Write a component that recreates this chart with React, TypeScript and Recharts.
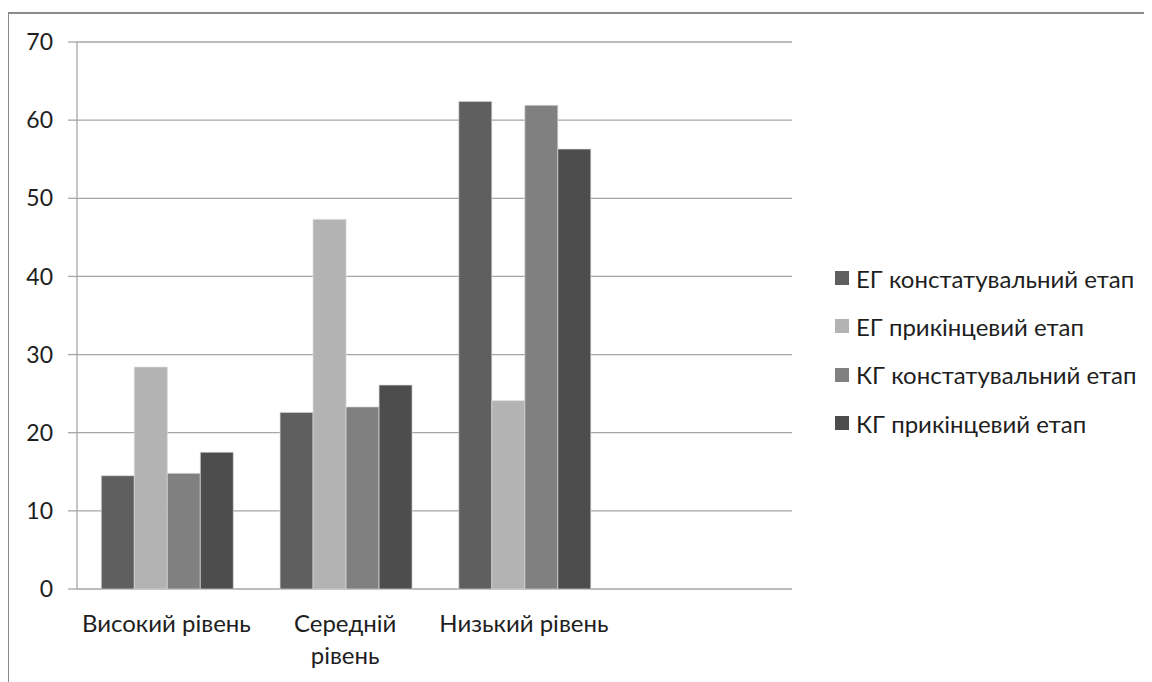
import React from "react";
import { BarChart, Bar, XAxis, YAxis, CartesianGrid, Legend } from "recharts";

// categories on the x axis (the fourth slot is empty in the source chart)
const categories = ["Високий рівень", "Середній рівень", "Низький рівень", ""];

// series values
const egInitial = [14.5, 22.6, 62.4, null];
const egFinal = [28.4, 47.3, 24.1, null];
const kgInitial = [14.8, 23.3, 61.9, null];
const kgFinal = [17.5, 26.1, 56.3, null];

const seriesNames = [
  "ЕГ констатувальний етап",
  "ЕГ прикінцевий етап",
  "КГ констатувальний етап",
  "КГ прикінцевий етап",
];

const yTicks = [0, 10, 20, 30, 40, 50, 60, 70];
// boundaries between categories, where Excel puts its tick marks
const edgeTicks = [0, 1, 2, 3, 4];

const COLORS = ["#5f5f5f", "#b3b3b3", "#808080", "#4d4d4d"];
const GRID = "#a6a6a6";
const FONT = "Lato, 'Open Sans', sans-serif";
const TEXT = "#1e1e1e";

const data = categories.map((name, i) => ({
  name,
  egInitial: egInitial[i],
  egFinal: egFinal[i],
  kgInitial: kgInitial[i],
  kgFinal: kgFinal[i],
}));

// category label, wrapped onto two lines when it is too long (as Excel did)
const CategoryTick = ({ x, y, payload }: any) => {
  const label: string = payload.value || "";
  const lines = label.length > 14 ? label.split(" ") : [label];
  return (
    <text
      x={x}
      y={y + 43}
      textAnchor="middle"
      fontFamily={FONT}
      fontSize={24}
      fill={TEXT}
    >
      {lines.map((line, i) => (
        <tspan key={i} x={x} dy={i === 0 ? 0 : 31.5}>
          {line}
        </tspan>
      ))}
    </text>
  );
};

const LegendContent = ({ payload }: any) => (
  <div style={{ fontFamily: FONT, fontSize: 24, color: TEXT }}>
    {(payload || []).map((entry: any, index: number) => (
      <div
        key={`legend-${index}`}
        style={{ display: "flex", alignItems: "center", height: 48.3, whiteSpace: "nowrap" }}
      >
        <span
          style={{
            display: "inline-block",
            width: 14,
            height: 14,
            background: entry.color,
            marginRight: 7,
          }}
        />
        <span>{entry.value}</span>
      </div>
    ))}
  </div>
);

export default function App() {
  return (
    <div
      style={{
        position: "relative",
        width: 1152,
        height: 682,
        marginTop: -8,
        marginLeft: -8,
        overflow: "hidden",
        background: "#fff",
      }}
    >
      {/* chart frame: only top and left edges fall inside the picture */}
      <div
        style={{
          position: "absolute",
          left: 7,
          top: 12,
          width: 1200,
          height: 720,
          border: "2px solid #8a8a8a",
        }}
      />
      <div style={{ position: "absolute", left: 0, top: 0 }}>
        <BarChart
          width={1152}
          height={682}
          data={data}
          margin={{ top: 42, right: 360, bottom: 0, left: 0 }}
          barCategoryGap="13.6%"
          barGap={0}
        >
          <CartesianGrid horizontal vertical={false} stroke={GRID} strokeWidth={1.3} />
          <XAxis
            xAxisId="edge"
            type="number"
            domain={[0, 4]}
            ticks={edgeTicks}
            tick={false}
            tickSize={9}
            height={0}
            axisLine={{ stroke: GRID, strokeWidth: 1.3 }}
            tickLine={{ stroke: GRID, strokeWidth: 1.3 }}
          />
          <XAxis
            dataKey="name"
            axisLine={false}
            tickLine={false}
            tickSize={0}
            tickMargin={0}
            height={93}
            interval={0}
            tick={<CategoryTick />}
          />
          <YAxis
            domain={[0, 70]}
            ticks={yTicks}
            width={77}
            tickSize={9}
            tickMargin={15}
            axisLine={{ stroke: GRID, strokeWidth: 1.3 }}
            tickLine={{ stroke: GRID, strokeWidth: 1.3 }}
            tick={{ fontFamily: FONT, fontSize: 23, fill: TEXT }}
          />
          <Legend
            layout="vertical"
            align="center"
            verticalAlign="middle"
            content={<LegendContent />}
            wrapperStyle={{ left: 835, top: 254, width: 315 }}
          />
          <Bar dataKey="egInitial" name={seriesNames[0]} fill={COLORS[0]} stroke="#d9d9d9" strokeWidth={0.7} isAnimationActive={false} />
          <Bar dataKey="egFinal" name={seriesNames[1]} fill={COLORS[1]} stroke="#d9d9d9" strokeWidth={0.7} isAnimationActive={false} />
          <Bar dataKey="kgInitial" name={seriesNames[2]} fill={COLORS[2]} stroke="#d9d9d9" strokeWidth={0.7} isAnimationActive={false} />
          <Bar dataKey="kgFinal" name={seriesNames[3]} fill={COLORS[3]} stroke="#d9d9d9" strokeWidth={0.7} isAnimationActive={false} />
        </BarChart>
      </div>
    </div>
  );
}
